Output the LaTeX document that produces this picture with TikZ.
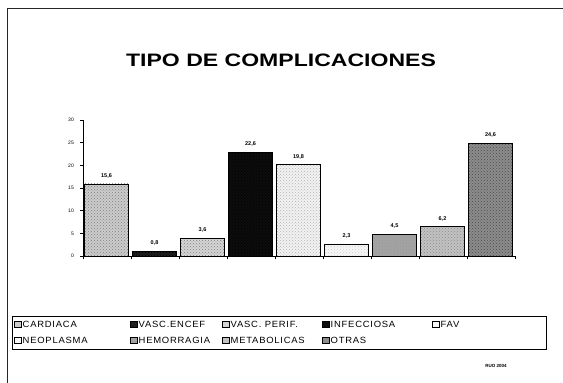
\documentclass[tikz,border=0pt]{standalone}
\usepackage{fontspec}
\setmainfont{Liberation Sans}
\usetikzlibrary{patterns}
\definecolor{c1}{gray}{0.80}
\definecolor{c2}{gray}{0.12}
\definecolor{c3}{gray}{0.84}
\definecolor{c4}{gray}{0.05}
\definecolor{c5}{gray}{0.95}
\definecolor{c6}{gray}{0.97}
\definecolor{c7}{gray}{0.64}
\definecolor{c8}{gray}{0.76}
\definecolor{c9}{gray}{0.55}
\begin{document}
\begin{tikzpicture}[x=1pt,y=-1pt,
  frame/.style={line width=0.8pt, draw=black!85},
  barbox/.style={draw=black, line width=0.8pt},
  val/.style={font=\bfseries\fontsize{5.5}{6}\selectfont, inner sep=0},
  ylab/.style={font=\fontsize{5}{6}\selectfont, anchor=east, inner sep=0},
  axis/.style={line width=0.6pt},
  legtext/.style={font=\fontsize{9}{10}\selectfont\addfontfeature{LetterSpace=8}, anchor=west, inner sep=0, xscale=1.05},
  legsq/.style={draw=black, line width=0.5pt, minimum size=6.5pt, inner sep=0, anchor=west}]
\useasboundingbox (0,0) rectangle (563,383);
\fill[white] (0,0) rectangle (563,383);
% frame
\coordinate (fbl) at (7,383);
\coordinate (ftl) at (7,8);
\coordinate (ftr) at (563,8);
\draw[frame] (fbl) -- (ftl) -- (ftr);
% title
\node[font=\bfseries\fontsize{18}{20}\selectfont, xscale=1.28] (title) at (281,60) {TIPO DE COMPLICACIONES};
% axes
\coordinate (o) at (83,256);
\coordinate (ytop) at (83,120);
\coordinate (xend) at (515,256);
\draw[axis] (ytop) -- (o) -- (xend);
\foreach \t [count=\k from 0] in {0,5,10,15,20,25,30}{
  \pgfmathsetmacro{\yy}{256-4.533*\t}
  \draw[axis] (80,\yy) -- (83,\yy);
  \node[ylab] (yl\k) at (74,\yy) {\t};
}
\foreach \k in {0,...,9}{
  \pgfmathsetmacro{\xx}{83+48*\k}
  \draw[axis] (\xx,256) -- (\xx,259);
}
% bars
\foreach \v/\lab/\col/\pc [count=\i] in {15.6/{15,6}/c1/gray, 0.8/{0,8}/c2/black, 3.6/{3,6}/c3/gray, 22.6/{22,6}/c4/black, 19.8/{19,8}/c5/gray!60, 2.3/{2,3}/c6/gray!40, 4.5/{4,5}/c7/gray!80, 6.2/{6,2}/c8/gray!90, 24.6/{24,6}/c9/black!70}{
  \pgfmathsetmacro{\xa}{83+48*(\i-1)+1.5}
  \pgfmathsetmacro{\xb}{83+48*(\i-1)+45.5}
  \pgfmathsetmacro{\yt}{256-4.533*(\v+0.3)}
  \pgfmathsetmacro{\xm}{83+48*(\i-1)+23.5}
  \fill[\col] (\xa,256) rectangle (\xb,\yt);
  \fill[pattern=crosshatch dots, pattern color=\pc] (\xa,256) rectangle (\xb,\yt);
  \draw[barbox] (\xa,256) rectangle (\xb,\yt);
  \node[val] (v\i) at (\xm,\yt-8) {\lab};
}
% legend
\node[draw=black, line width=0.7pt, minimum width=534pt, minimum height=33pt, anchor=north west, inner sep=0] (legend) at (12,316) {};
\foreach \name/\col/\xx/\yy [count=\j] in {CARDIACA/c1/14/324, VASC.ENCEF/c2/130/324, VASC. PERIF./c3/222/324, INFECCIOSA/c4/322/324, FAV/c6/432/324, NEOPLASMA/c6/14/340, HEMORRAGIA/c7/130/340, METABOLICAS/c8/222/340, OTRAS/c9/322/340}{
  \node[legsq, fill=\col] (sq\j) at (\xx,\yy) {};
  \node[legtext] (lt\j) at ([xshift=1.5pt]sq\j.east) {\name};
}
\node[font=\bfseries\fontsize{4.5}{5}\selectfont, inner sep=0] (stamp) at (496,366) {RUO 2004};
\end{tikzpicture}
\end{document}
